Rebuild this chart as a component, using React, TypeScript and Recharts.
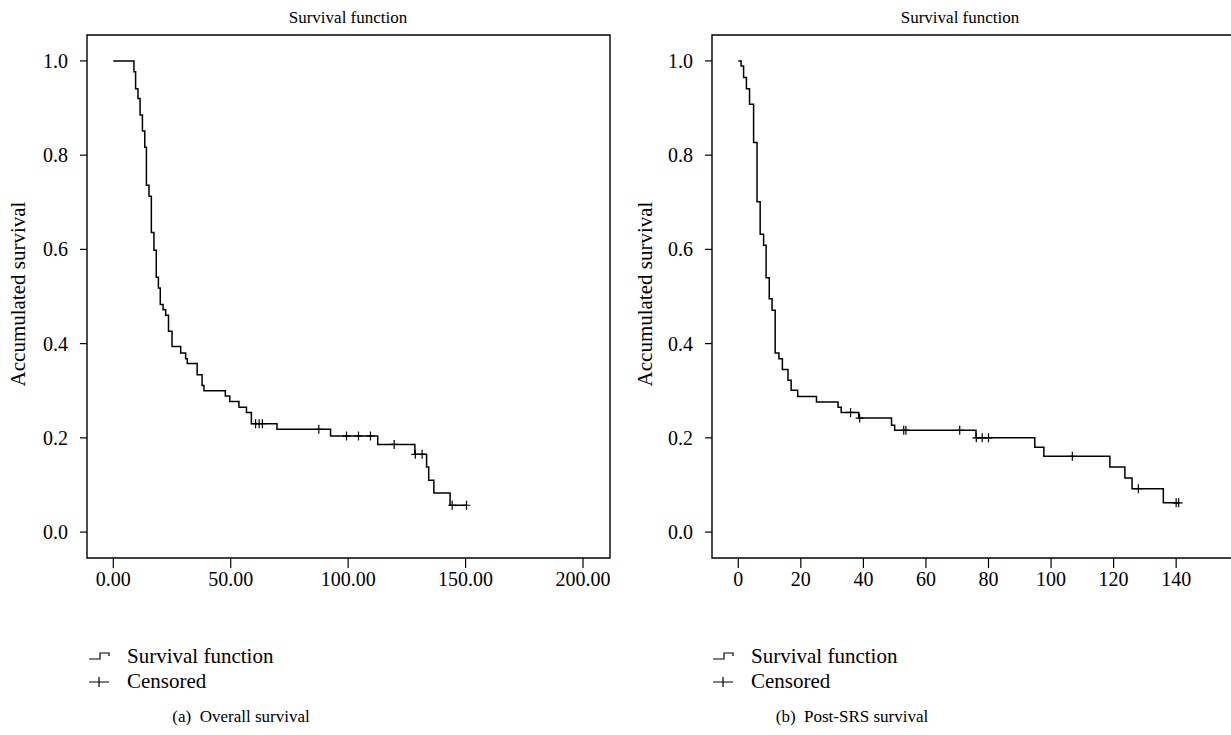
import React from 'react';
import { ComposedChart, Line, Scatter, XAxis, YAxis, ReferenceArea } from 'recharts';

const FONT = '"Liberation Serif", "Times New Roman", serif';

// (a) Overall survival: time where each step starts and the survival level from there on
const overallTimes = [
  0, 8.8, 9.5, 10.5, 11.4, 12.4, 13.4, 14.1, 15.2, 16.2, 17.3, 18.3, 19.2, 20.0, 21.2, 22.3,
  23.5, 25.0, 28.7, 30.8, 31.5, 35.7, 37.8, 38.6, 47.7, 49.6, 53.5, 56.7, 58.8, 69.7, 92.5,
  112.6, 128.4, 133.4, 134.3, 136.5, 143.4, 150.4,
];
const overallSurvival = [
  1.0, 0.977, 0.941, 0.92, 0.885, 0.851, 0.817, 0.736, 0.713, 0.636, 0.598, 0.541, 0.518, 0.483,
  0.472, 0.46, 0.426, 0.394, 0.38, 0.368, 0.358, 0.334, 0.311, 0.3, 0.289, 0.277, 0.265, 0.254,
  0.23, 0.218, 0.204, 0.186, 0.165, 0.138, 0.11, 0.083, 0.057, 0.057,
];
const overallCensorTimes = [60.6, 62.1, 63.5, 87.5, 99.3, 104.4, 109.5, 119.6, 128.6, 131.5, 144.3, 150.4];
const overallCensorSurvival = [0.23, 0.23, 0.23, 0.218, 0.204, 0.204, 0.204, 0.186, 0.165, 0.165, 0.057, 0.057];
const overallTicks = [0, 50, 100, 150, 200];

// (b) Post-SRS survival
const postTimes = [
  0, 0.9, 1.7, 2.6, 3.6, 4.9, 6.0, 7.0, 8.1, 8.9, 9.9, 10.8, 11.8, 13.0, 14.1, 15.9, 16.9, 19.0,
  25.0, 31.9, 32.9, 38.5, 49.0, 50.0, 76.0, 94.8, 97.7, 118.8, 123.6, 125.9, 135.9, 140.8,
];
const postSurvival = [
  1.0, 0.989, 0.965, 0.941, 0.908, 0.827, 0.701, 0.632, 0.609, 0.54, 0.495, 0.471, 0.38, 0.368,
  0.345, 0.322, 0.301, 0.288, 0.276, 0.265, 0.254, 0.242, 0.227, 0.216, 0.2, 0.18, 0.161, 0.138,
  0.115, 0.092, 0.062, 0.062,
];
const postCensorTimes = [35.9, 38.8, 52.9, 53.6, 70.8, 76.1, 78.0, 80.0, 106.8, 127.9, 140.0, 140.8];
const postCensorSurvival = [0.254, 0.242, 0.216, 0.216, 0.216, 0.2, 0.2, 0.2, 0.161, 0.092, 0.062, 0.062];
const postTicks = [0, 20, 40, 60, 80, 100, 120, 140];

const survivalTicks = [0, 0.2, 0.4, 0.6, 0.8, 1.0];
const Y_DOMAIN: [number, number] = [-0.055, 1.055];

const toPoints = (ts: number[], ss: number[]) => ts.map((t, i) => ({ t, s: ss[i] }));

// "+" marker used by SPSS for censored cases
function Cross(props: any) {
  const { cx, cy } = props;
  if (cx == null || cy == null) return null;
  return <path d={`M${cx - 4},${cy}h8M${cx},${cy - 4.5}v9`} stroke="#000" strokeWidth={1.2} fill="none" />;
}

interface PanelProps {
  left: number;
  width: number;
  plotLeft: number; // plot frame left, relative to the panel
  plotRight: number;
  xDomain: [number, number];
  xTicks: number[];
  xFmt: (v: number) => string;
  times: number[];
  survival: number[];
  censorTimes: number[];
  censorSurvival: number[];
}

const PLOT_TOP = 35;
const PLOT_BOTTOM = 558;
const CHART_H = 620;
const X_AXIS_H = 40;
const Y_AXIS_W = 60;

function SurvivalPanel(p: PanelProps) {
  const steps = toPoints(p.times, p.survival);
  const censors = toPoints(p.censorTimes, p.censorSurvival);
  const tickStyle = { fontSize: 20, fill: '#000', fontFamily: FONT };
  return (
    <div style={{ position: 'absolute', left: p.left, top: 0 }}>
      <ComposedChart
        width={p.width}
        height={CHART_H}
        margin={{
          top: PLOT_TOP,
          right: p.width - p.plotRight,
          bottom: CHART_H - PLOT_BOTTOM - X_AXIS_H,
          left: p.plotLeft - Y_AXIS_W,
        }}
      >
        <XAxis
          dataKey="t"
          type="number"
          domain={p.xDomain}
          allowDataOverflow
          ticks={p.xTicks}
          tickFormatter={p.xFmt}
          interval={0}
          height={X_AXIS_H}
          axisLine={false}
          tickSize={10}
          tickMargin={4}
          tickLine={{ stroke: '#000', strokeWidth: 1.2 }}
          tick={tickStyle}
        />
        <YAxis
          dataKey="s"
          type="number"
          domain={Y_DOMAIN}
          allowDataOverflow
          ticks={survivalTicks}
          tickFormatter={(v: number) => v.toFixed(1)}
          interval={0}
          width={Y_AXIS_W}
          axisLine={false}
          tickSize={7}
          tickMargin={12}
          tickLine={{ stroke: '#000', strokeWidth: 1.2 }}
          tick={tickStyle}
        />
        <ReferenceArea
          x1={p.xDomain[0]}
          x2={p.xDomain[1]}
          y1={Y_DOMAIN[0]}
          y2={Y_DOMAIN[1]}
          fill="none"
          stroke="#000"
          strokeWidth={1.4}
          ifOverflow="visible"
        />
        <Line
          data={steps}
          dataKey="s"
          type="stepAfter"
          stroke="#000"
          strokeWidth={1.5}
          dot={false}
          isAnimationActive={false}
        />
        <Scatter data={censors} dataKey="s" shape={<Cross />} isAnimationActive={false} />
      </ComposedChart>
    </div>
  );
}

function StepGlyph() {
  return (
    <svg width={24} height={12} style={{ display: 'block' }}>
      <path d="M1,9H12V3H21V6" stroke="#000" strokeWidth={1.2} fill="none" />
    </svg>
  );
}

function CrossGlyph() {
  return (
    <svg width={24} height={12} style={{ display: 'block' }}>
      <path d="M1,6H21M11,1V11" stroke="#000" strokeWidth={1.2} fill="none" />
    </svg>
  );
}

function Text({ x, y, size = 20, anchor = 'center', children }: any) {
  return (
    <div
      style={{
        position: 'absolute',
        left: x,
        top: y,
        transform: `translate(${anchor === 'center' ? '-50%' : '0'}, -50%)`,
        whiteSpace: 'nowrap',
        fontSize: size,
        lineHeight: 1,
        fontFamily: FONT,
        color: '#000',
      }}
    >
      {children}
    </div>
  );
}

function Legend({ x }: { x: number }) {
  return (
    <>
      <div style={{ position: 'absolute', left: x, top: 650 }}><StepGlyph /></div>
      <Text x={x + 39} y={656} size={21} anchor="left">Survival function</Text>
      <div style={{ position: 'absolute', left: x, top: 676 }}><CrossGlyph /></div>
      <Text x={x + 39} y={681} size={21} anchor="left">Censored</Text>
    </>
  );
}

function YLabel({ x }: { x: number }) {
  return (
    <div
      style={{
        position: 'absolute',
        left: x,
        top: 294,
        transform: 'translate(-50%, -50%) rotate(-90deg)',
        whiteSpace: 'nowrap',
        fontSize: 21,
        lineHeight: 1,
        fontFamily: FONT,
      }}
    >
      Accumulated survival
    </div>
  );
}

export default function App() {
  return (
    <div
      style={{
        position: 'fixed',
        left: 0,
        top: 0,
        width: 1231,
        height: 735,
        overflow: 'hidden',
        background: '#fff',
      }}
    >
      <SurvivalPanel
        left={0}
        width={640}
        plotLeft={87}
        plotRight={610}
        xDomain={[-11.2, 211.5]}
        xTicks={overallTicks}
        xFmt={(v) => v.toFixed(2)}
        times={overallTimes}
        survival={overallSurvival}
        censorTimes={overallCensorTimes}
        censorSurvival={overallCensorSurvival}
      />
      <SurvivalPanel
        left={640}
        width={640}
        plotLeft={72}
        plotRight={630}
        xDomain={[-8.4, 170]}
        xTicks={postTicks}
        xFmt={(v) => String(v)}
        times={postTimes}
        survival={postSurvival}
        censorTimes={postCensorTimes}
        censorSurvival={postCensorSurvival}
      />

      <Text x={348} y={17} size={17}>Survival function</Text>
      <Text x={960} y={17} size={17}>Survival function</Text>
      <YLabel x={18} />
      <YLabel x={645} />

      <Legend x={88} />
      <Legend x={712} />

      <Text x={241} y={716} size={17}>(a)&nbsp;&nbsp;Overall survival</Text>
      <Text x={852} y={716} size={17}>(b)&nbsp;&nbsp;Post-SRS survival</Text>
    </div>
  );
}
